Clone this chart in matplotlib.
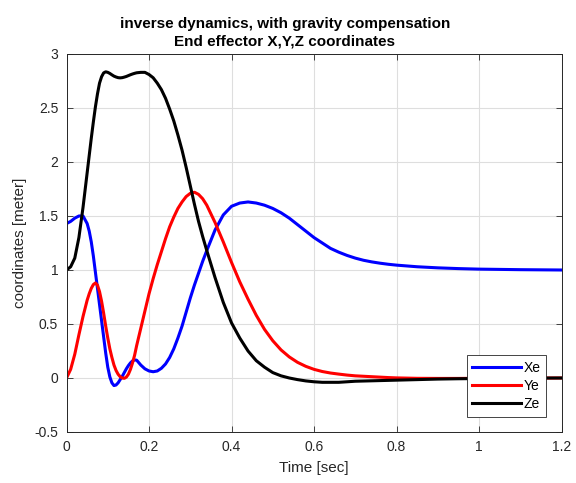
import matplotlib
matplotlib.use("Agg")
import matplotlib.pyplot as plt

plt.rcParams['font.family'] = ['Liberation Sans', 'DejaVu Sans']
plt.rcParams['axes.unicode_minus'] = False

# time samples (denser where the curves move fast)
t = [0, 0.01, 0.02, 0.03, 0.04,
     0.05, 0.055, 0.06, 0.065, 0.07, 0.075, 0.08, 0.085, 0.09, 0.095,
     0.10, 0.105, 0.11, 0.115, 0.12, 0.125, 0.13, 0.135, 0.14, 0.145,
     0.15, 0.155, 0.16, 0.165, 0.17,
     0.18, 0.19, 0.20, 0.21, 0.22, 0.23, 0.24, 0.25, 0.26, 0.27,
     0.28, 0.29, 0.30, 0.31, 0.32, 0.33, 0.34,
     0.36, 0.38, 0.40, 0.42, 0.44, 0.46, 0.48, 0.50, 0.52, 0.54,
     0.56, 0.58, 0.60, 0.62, 0.64, 0.66, 0.68, 0.70, 0.72, 0.74,
     0.76, 0.78, 0.80,
     0.85, 0.90, 0.95, 1.00, 1.10, 1.20]

xe = [1.43, 1.45, 1.48, 1.50, 1.50,
      1.43, 1.36, 1.26, 1.13, 0.98, 0.83, 0.68, 0.53, 0.38, 0.23,
      0.10, 0.01, -0.045, -0.07, -0.065, -0.045, -0.015, 0.015, 0.05, 0.085,
      0.115, 0.14, 0.158, 0.167, 0.165,
      0.12, 0.085, 0.065, 0.058, 0.065, 0.09, 0.13, 0.19, 0.27, 0.37,
      0.48, 0.61, 0.74, 0.86, 0.97, 1.08, 1.18,
      1.37, 1.51, 1.59, 1.62, 1.63, 1.62, 1.60, 1.57, 1.53, 1.48,
      1.42, 1.36, 1.30, 1.25, 1.20, 1.165, 1.135, 1.11, 1.09, 1.075,
      1.063, 1.053, 1.045,
      1.03, 1.02, 1.013, 1.008, 1.003, 1.0]

ye = [0.0, 0.08, 0.22, 0.40, 0.57,
      0.72, 0.78, 0.83, 0.865, 0.88, 0.86, 0.80, 0.71, 0.60, 0.48,
      0.37, 0.27, 0.19, 0.12, 0.07, 0.035, 0.012, 0.0, -0.003, 0.008,
      0.035, 0.08, 0.14, 0.21, 0.30,
      0.46, 0.62, 0.78, 0.92, 1.05, 1.17, 1.29, 1.40, 1.49, 1.57,
      1.63, 1.68, 1.71, 1.72, 1.70, 1.66, 1.60,
      1.44, 1.26, 1.07, 0.89, 0.73, 0.58, 0.45, 0.345, 0.26, 0.195,
      0.145, 0.108, 0.08, 0.06, 0.046, 0.036, 0.027, 0.02, 0.016, 0.012,
      0.008, 0.004, 0.001,
      -0.003, -0.004, -0.004, -0.003, -0.001, 0.0]

ze = [1.00, 1.03, 1.11, 1.30, 1.58,
      1.90, 2.06, 2.22, 2.37, 2.51, 2.63, 2.73, 2.79, 2.825, 2.835,
      2.83, 2.82, 2.807, 2.795, 2.787, 2.781, 2.779, 2.781, 2.786, 2.792,
      2.80, 2.808, 2.815, 2.821, 2.826,
      2.83, 2.83, 2.81, 2.78, 2.73, 2.67, 2.59, 2.49, 2.38, 2.25,
      2.11, 1.95, 1.78, 1.61, 1.45, 1.31, 1.18,
      0.93, 0.70, 0.51, 0.37, 0.25, 0.16, 0.10, 0.05, 0.02, 0.0,
      -0.015, -0.027, -0.035, -0.04, -0.04, -0.04, -0.035, -0.03, -0.028, -0.026,
      -0.024, -0.022, -0.02,
      -0.015, -0.01, -0.007, -0.005, -0.001, 0.0]

xticks = [0, 0.2, 0.4, 0.6, 0.8, 1, 1.2]
xlabels = ['0', '0.2', '0.4', '0.6', '0.8', '1', '1.2']
yticks = [-0.5, 0, 0.5, 1, 1.5, 2, 2.5, 3]
ylabels = ['-0.5', '0', '0.5', '1', '1.5', '2', '2.5', '3']

fig = plt.figure(figsize=(5.76, 4.83), dpi=100)
ax = fig.add_axes([0.1155, 0.1056, 0.8594, 0.7826])

ax.plot(t, xe, color='#0000ff', lw=2.2, label='Xe')
ax.plot(t, ye, color='#ff0000', lw=2.2, label='Ye')
ax.plot(t, ze, color='#000000', lw=2.2, label='Ze')

ax.set_xlim(0, 1.2)
ax.set_ylim(-0.5, 3)
ax.set_xticks(xticks)
ax.set_xticklabels(xlabels)
ax.set_yticks(yticks)
ax.set_yticklabels(ylabels)

gray = '#262626'
ax.grid(True, color='#dedede', lw=0.8)
ax.set_axisbelow(True)
ax.tick_params(direction='in', top=True, right=True, length=4, width=0.6,
               colors=gray, labelsize=10, labelcolor=gray, pad=6)
for s in ax.spines.values():
    s.set_color(gray)
    s.set_linewidth(0.7)

ax.set_xlabel('Time [sec]', fontsize=11, color=gray, labelpad=5)
ax.set_ylabel('coordinates [meter]', fontsize=11, color=gray, labelpad=5)
ax.set_title('inverse dynamics, with gravity compensation\nEnd effector X,Y,Z coordinates',
             fontsize=11, fontweight='bold', color='black', pad=6,
             linespacing=1.35, x=0.441)

leg = ax.legend(loc='lower right', fontsize=10, fancybox=False, edgecolor=gray,
                framealpha=1, borderaxespad=1.1, handlelength=3.5,
                handletextpad=0.2, borderpad=0.4, labelspacing=0.3)
leg.get_frame().set_linewidth(0.6)

fig.savefig('out.png', dpi=100)
